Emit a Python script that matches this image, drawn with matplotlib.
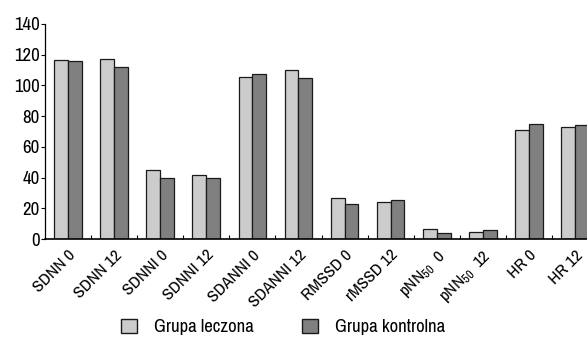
import numpy as np
import matplotlib
matplotlib.use("Agg")
import matplotlib.pyplot as plt
from matplotlib.patches import Patch

# Data
categories = ["SDNN 0", "SDNN 12", "SDNNI 0", "SDNNI 12", "SDANNI 0", "SDANNI 12",
              "RMSSD 0", "rMSSD 12", "pNN$_{50}$  0", "pNN$_{50}$  12", "HR 0", "HR 12"]
leczona = [116.7, 117.5, 45.2, 41.9, 105.4, 110.2, 26.9, 24.3, 6.3, 4.8, 71.0, 73.0]
kontrolna = [115.6, 112.0, 40.0, 39.8, 107.4, 105.0, 22.8, 25.6, 3.7, 6.1, 74.8, 74.1]
yticks = [0, 20, 40, 60, 80, 100, 120, 140]

# condensed face like the original, falls back if missing
plt.rcParams['font.family'] = ['Archivo Narrow', 'Liberation Sans', 'DejaVu Sans']
plt.rcParams['mathtext.fontset'] = 'custom'
plt.rcParams['mathtext.rm'] = 'Archivo Narrow'
plt.rcParams['mathtext.it'] = 'Archivo Narrow'

fig = plt.figure(figsize=(5.87, 3.43), dpi=100)
ax = fig.add_axes([45 / 587, 1 - 239 / 343, 553 / 587, 215 / 343])

x = np.arange(len(categories))
w = 0.30
ax.bar(x - w / 2, leczona, w, color='#cccccc', edgecolor='#1a1a1a', linewidth=0.9)
ax.bar(x + w / 2, kontrolna, w, color='#808080', edgecolor='#1a1a1a', linewidth=0.9)

ax.set_xlim(-0.5, len(categories) - 0.5)
ax.set_ylim(0, 140)
ax.set_yticks(yticks)
ax.tick_params(axis='y', labelsize=13.5, length=3, width=0.8, pad=1)

ax.set_xticks(x)
ax.set_xticklabels(categories, rotation=45, ha='right', rotation_mode='anchor', fontsize=12.5)
ax.tick_params(axis='x', length=0, pad=6)
ax.set_xticks(x[:-1] + 0.5, minor=True)
ax.tick_params(axis='x', which='minor', direction='in', length=3, width=0.8)

for s in ['top', 'right']:
    ax.spines[s].set_visible(False)
ax.spines['left'].set_linewidth(0.9)
ax.spines['bottom'].set_linewidth(1.2)

handles = [Patch(facecolor='#cccccc', edgecolor='#1a1a1a', label='Grupa leczona'),
           Patch(facecolor='#808080', edgecolor='#1a1a1a', label='Grupa kontrolna')]
fig.legend(handles=handles, loc='center', bbox_to_anchor=(283 / 587, 1 - 327 / 343),
           ncol=2, frameon=False, fontsize=13.5, handlelength=0.85, handleheight=0.85,
           columnspacing=2.6, handletextpad=0.9)

fig.savefig("out.png", dpi=100)
